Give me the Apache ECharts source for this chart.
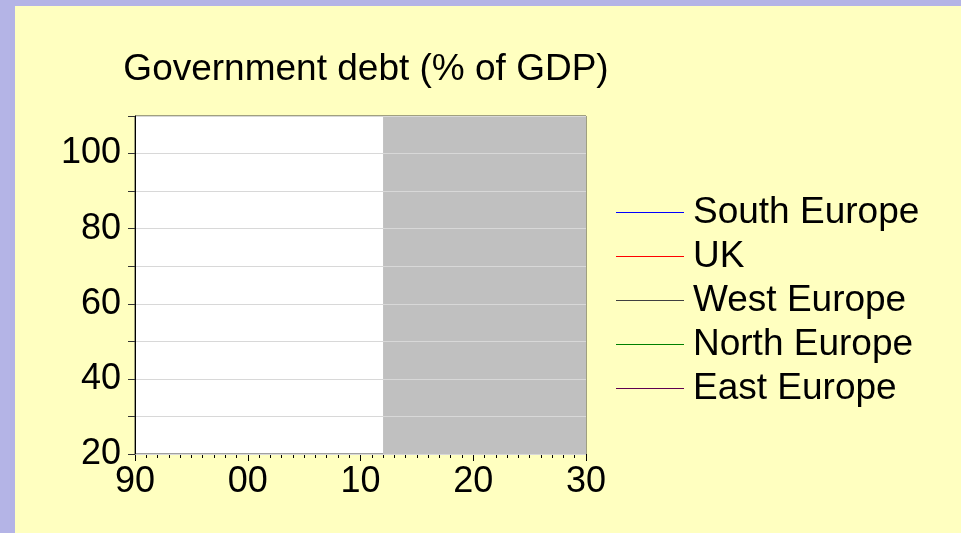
<!DOCTYPE html>
<html>
<head>
<meta charset="utf-8">
<script src="https://cdn.jsdelivr.net/npm/echarts@6/dist/echarts.min.js"></script>
<style>
  html, body { margin: 0; padding: 0; background: #B4B4E6; }
  #chart { position: absolute; left: 15px; top: 6px; width: 946px; height: 527px; background: #FFFFC0; }
</style>
</head>
<body>
<div id="chart"></div>
<script>
// series names and colours as shown in the legend
const seriesNames = ['South Europe', 'UK', 'West Europe', 'North Europe', 'East Europe']
const seriesColors = ['#0000FF', '#FF0000', '#404040', '#008000', '#600050']
// no line is visible inside the plot, so the value lists are empty
const southEurope = []
const uk = []
const westEurope = []
const northEurope = []
const eastEurope = []
const seriesValues = [southEurope, uk, westEurope, northEurope, eastEurope]
// forecast period shaded grey
const shadeStart = 2012
const shadeEnd = 2030

const font = 'Liberation Sans'
const chart = echarts.init(document.getElementById('chart'))

const series = seriesNames.map((name, i) => ({
  name: name,
  type: 'line',
  symbol: 'none',
  data: seriesValues[i],
  lineStyle: { width: 1, color: seriesColors[i] },
  itemStyle: { color: seriesColors[i] },
  z: 2
}))
series[0].markArea = {
  silent: true,
  itemStyle: { color: '#C0C0C0' },
  data: [[{ xAxis: shadeStart }, { xAxis: shadeEnd }]]
}

chart.setOption({
  animation: false,
  title: {
    text: 'Government debt (% of GDP)',
    left: 346,
    top: 40,
    textAlign: 'center',
    textStyle: { fontFamily: font, fontSize: 37, fontWeight: 'normal', color: '#000' }
  },
  legend: {
    orient: 'vertical',
    left: 596,
    top: 183,
    itemWidth: 68,
    itemHeight: 37,
    itemGap: 7,
    icon: 'path://M0,0H68V1H0Z',
    textStyle: { fontFamily: font, fontSize: 37, lineHeight: 37, color: '#000', padding: [0, 0, 0, 4] },
    data: seriesNames.map((name, i) => ({
      name: name,
      itemStyle: { color: seriesColors[i], borderWidth: 0 }
    }))
  },
  grid: {
    left: 120, top: 110, width: 451, height: 338,
    show: true, backgroundColor: '#FFFFFF', borderColor: '#404040', borderWidth: 1
  },
  xAxis: {
    type: 'value', min: 1990, max: 2030, interval: 10,
    axisLine: { lineStyle: { color: '#000', width: 1 } },
    axisTick: { inside: false, length: 7, lineStyle: { color: '#000' } },
    minorTick: { show: true, splitNumber: 10, length: 4, lineStyle: { color: '#000' } },
    splitLine: { show: false },
    axisLabel: {
      fontFamily: font, fontSize: 36, color: '#000', margin: 10,
      formatter: v => String(v % 100).padStart(2, '0')
    }
  },
  yAxis: {
    type: 'value', min: 20, max: 110, interval: 10, z: 5,
    axisLine: { show: true, lineStyle: { color: '#000', width: 1 } },
    axisTick: { show: true, inside: false, length: 7, lineStyle: { color: '#333' } },
    splitLine: { show: true, lineStyle: { color: '#D8D8D8', width: 1 } },
    axisLabel: {
      fontFamily: font, fontSize: 36, color: '#000', margin: 14,
      formatter: v => (v % 20 === 0 && v <= 100) ? String(v) : ''
    }
  },
  series: series
})
</script>
</body>
</html>
